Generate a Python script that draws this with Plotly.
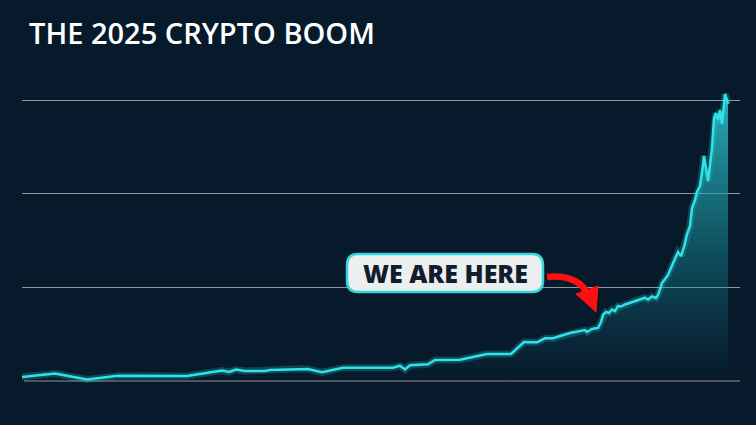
import plotly.graph_objects as go

# ---- data ----
days = [0, 33, 65, 96, 165, 200, 207, 214, 223, 243, 248, 278, 286, 300, 321, 371, 378, 383, 388,
        406, 413, 438, 465, 489, 502, 515, 523, 531, 548, 563, 565, 570, 576, 579, 581, 584, 587,
        590, 593, 596, 599, 603, 608, 613, 618, 623, 626, 630, 634, 636, 640, 646, 650, 653, 656,
        659, 662, 665, 668, 670, 673, 675, 678, 681, 682, 684, 686, 688, 690, 692, 694, 696, 698,
        700, 702, 703, 705, 706]
values = [0.043, 0.080, 0.016, 0.057, 0.053, 0.112, 0.096, 0.123, 0.107, 0.107, 0.117, 0.131,
          0.128, 0.093, 0.142, 0.142, 0.163, 0.123, 0.168, 0.178, 0.224, 0.227, 0.288, 0.288,
          0.416, 0.413, 0.456, 0.456, 0.512, 0.544, 0.523, 0.555, 0.566, 0.630, 0.705, 0.737,
          0.726, 0.763, 0.747, 0.801, 0.795, 0.817, 0.836, 0.859, 0.875, 0.889, 0.870, 0.902,
          0.886, 0.918, 1.046, 1.132, 1.233, 1.313, 1.377, 1.334, 1.431, 1.569, 1.655, 1.847,
          1.932, 2.018, 2.082, 2.306, 2.402, 2.274, 2.135, 2.306, 2.487, 2.808, 2.861, 2.786,
          2.893, 2.744, 3.021, 3.064, 3.000, 2.957]
grid_values = [1, 2, 3]
title_text = "THE 2025 CRYPTO BOOM"
callout_text = "WE ARE HERE"

BG = "#061a2b"
LINE = "#2fe3e8"

# plot area in pixels
W, H = 756, 425
L, R, T, B = 22, 16, 60, 15
PW, PH = W - L - R, H - T - B


def px(xp):
    return (xp - L) / PW


def py(yp):
    return (H - B - yp) / PH


fig = go.Figure()

# glow
fig.add_trace(go.Scatter(x=days, y=values, mode="lines",
                         line=dict(color="rgba(47,227,232,0.22)", width=7),
                         hoverinfo="skip", showlegend=False))
# main line with gradient fill
fig.add_trace(go.Scatter(
    x=days, y=values, mode="lines",
    line=dict(color=LINE, width=2.5),
    fill="tozeroy",
    fillgradient=dict(type="vertical", start=0, stop=3.07,
                      colorscale=[[0, "rgba(20,120,140,0.0)"],
                                  [0.35, "rgba(25,140,155,0.35)"],
                                  [1, "rgba(45,195,200,0.9)"]]),
    showlegend=False))

shapes = []
# baseline
shapes.append(dict(type="line", xref="paper", yref="y", x0=px(24), x1=px(740), y0=0, y1=0,
                   line=dict(color="#4e555c", width=2), layer="below"))

# rounded callout box
x0, x1, y0, y1, r = 347, 543, 254, 292, 11
path = (f"M {px(x0 + r)},{py(y0)} L {px(x1 - r)},{py(y0)} Q {px(x1)},{py(y0)} {px(x1)},{py(y0 + r)} "
        f"L {px(x1)},{py(y1 - r)} Q {px(x1)},{py(y1)} {px(x1 - r)},{py(y1)} "
        f"L {px(x0 + r)},{py(y1)} Q {px(x0)},{py(y1)} {px(x0)},{py(y1 - r)} "
        f"L {px(x0)},{py(y0 + r)} Q {px(x0)},{py(y0)} {px(x0 + r)},{py(y0)} Z")
shapes.append(dict(type="path", xref="paper", yref="paper", path=path,
                   fillcolor="#eceff0", line=dict(color="#33d6dc", width=2.5)))

# red curved arrow body
arrow = (f"M {px(547)},{py(277)} Q {px(577)},{py(274)} {px(588)},{py(294)}")
shapes.append(dict(type="path", xref="paper", yref="paper", path=arrow,
                   line=dict(color="#ff1010", width=6.5)))
head = (f"M {px(576)},{py(294)} L {px(598)},{py(286)} L {px(596)},{py(312)} Z")
shapes.append(dict(type="path", xref="paper", yref="paper", path=head,
                   fillcolor="#ff1010", line=dict(color="#ff1010", width=1)))

fig.update_layout(
    width=W, height=H,
    paper_bgcolor=BG, plot_bgcolor=BG,
    margin=dict(l=L, r=R, t=T, b=B),
    showlegend=False,
    xaxis=dict(range=[0, 718], visible=False, showgrid=False, zeroline=False),
    yaxis=dict(range=[-0.3096, 3.427], showticklabels=False, zeroline=False,
               tickvals=grid_values, showgrid=True, gridcolor="rgba(190,195,200,0.75)",
               gridwidth=1, ticks=""),
    shapes=shapes,
    annotations=[
        dict(text=title_text, xref="paper", yref="paper", x=px(27), y=py(11),
             xanchor="left", yanchor="top", showarrow=False,
             font=dict(family="Open Sans", size=29, color="#ffffff", weight=600)),
        dict(text=callout_text, xref="paper", yref="paper", x=px(445), y=py(273),
             xanchor="center", yanchor="middle", showarrow=False,
             font=dict(family="Open Sans", size=25, color="#111d2b", weight=900)),
    ],
)

fig.write_html("out.html", config={"displayModeBar": False},
               post_script="document.body.style.margin='0';document.body.style.background='#061a2b';")
